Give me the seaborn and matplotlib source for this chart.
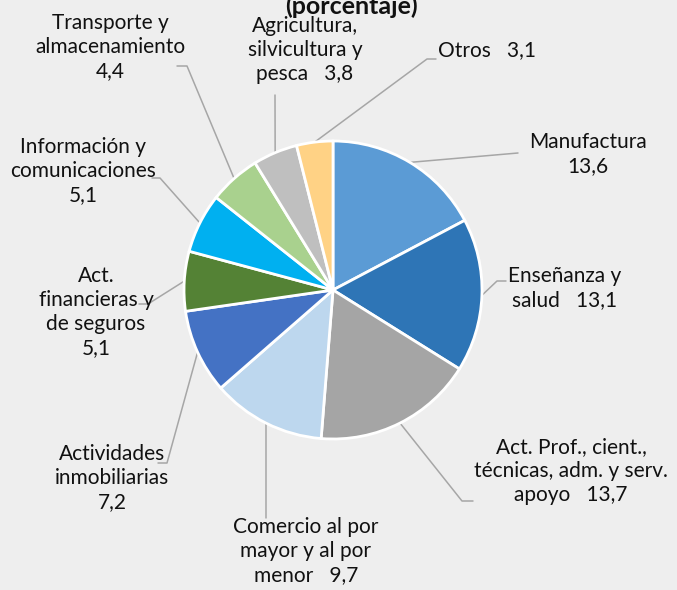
import numpy as np
import matplotlib
matplotlib.use("Agg")
import matplotlib.pyplot as plt
import seaborn as sns

# datos del grafico (porcentaje)
sectores = ["Manufactura", "Enseñanza y salud", "Act. Prof., cient., técnicas, adm. y serv. apoyo",
            "Comercio al por mayor y al por menor", "Actividades inmobiliarias",
            "Act. financieras y de seguros", "Información y comunicaciones",
            "Transporte y almacenamiento", "Agricultura, silvicultura y pesca", "Otros"]
valores = [13.6, 13.1, 13.7, 9.7, 7.2, 5.1, 5.1, 4.4, 3.8, 3.1]
etiquetas = ["Manufactura\n13,6", "Enseñanza y\nsalud   13,1",
             "Act. Prof., cient.,\ntécnicas, adm. y serv.\napoyo   13,7",
             "Comercio al por\nmayor y al por\nmenor   9,7",
             "Actividades\ninmobiliarias\n7,2",
             "Act.\nfinancieras y\nde seguros\n5,1",
             "Información y\ncomunicaciones\n5,1",
             "Transporte y\nalmacenamiento\n4,4",
             "Agricultura,\nsilvicultura y\npesca   3,8",
             "Otros   3,1"]
colores = ["#5b9bd5", "#2e75b6", "#a5a5a5", "#bdd7ee", "#4472c4",
           "#548235", "#00b0f0", "#a9d18e", "#bfbfbf", "#ffd285"]

W, H = 677, 590
fondo = "#eeeeee"

sns.set_style("white", {"axes.facecolor": fondo, "figure.facecolor": fondo})
plt.rcParams['font.family'] = ['Lato', 'DejaVu Sans']

fig = plt.figure(figsize=(W / 100, H / 100), dpi=100)
ax = fig.add_axes([0, 0, 1, 1])

cx, cy, r = 333, H - 290, 149
wedges, _ = ax.pie(valores, colors=sns.color_palette(colores), startangle=90, counterclock=False,
                   center=(cx, cy), radius=r, frame=True,
                   wedgeprops=dict(edgecolor='white', linewidth=2))
ax.set_xlim(0, W)
ax.set_ylim(0, H)
ax.set_aspect('equal')
ax.axis('off')

# posicion del texto y codo de la linea guia (pixeles desde arriba)
textos = [(588, 154), (565, 288), (571, 471), (306, 551), (112, 478),
          (96, 312), (83, 171), (110, 47), (305, 50), (487, 50)]
codos = [[(518, 153)],
         [(497, 281), (506, 281)],
         [(462, 501), (473, 501)],
         [(266, 518)],
         [(167, 463), (158, 463)],
         [(148, 304), (139, 304)],
         [(160, 178), (152, 178)],
         [(187, 66), (177, 66)],
         [(275, 95)],
         [(427, 59), (436, 59)]]

for w, lab, (tx, ty), pts in zip(wedges, etiquetas, textos, codos):
    ang = np.deg2rad((w.theta1 + w.theta2) / 2)
    ax0 = cx + r * np.cos(ang)
    ay0 = cy + r * np.sin(ang)
    xs = [ax0] + [p[0] for p in pts]
    ys = [ay0] + [H - p[1] for p in pts]
    ax.plot(xs, ys, color="#a6a6a6", lw=1.1, zorder=0.5)
    ax.text(tx, H - ty, lab, ha='center', va='center', fontsize=15,
            color="#111111", linespacing=1.25)

# titulo (recortado arriba como en el original)
ax.text(351, H - 6, "(porcentaje)", ha='center', va='center', fontsize=18,
        fontweight='bold', color="#111111")

fig.savefig("out.png", dpi=100, facecolor=fondo)
